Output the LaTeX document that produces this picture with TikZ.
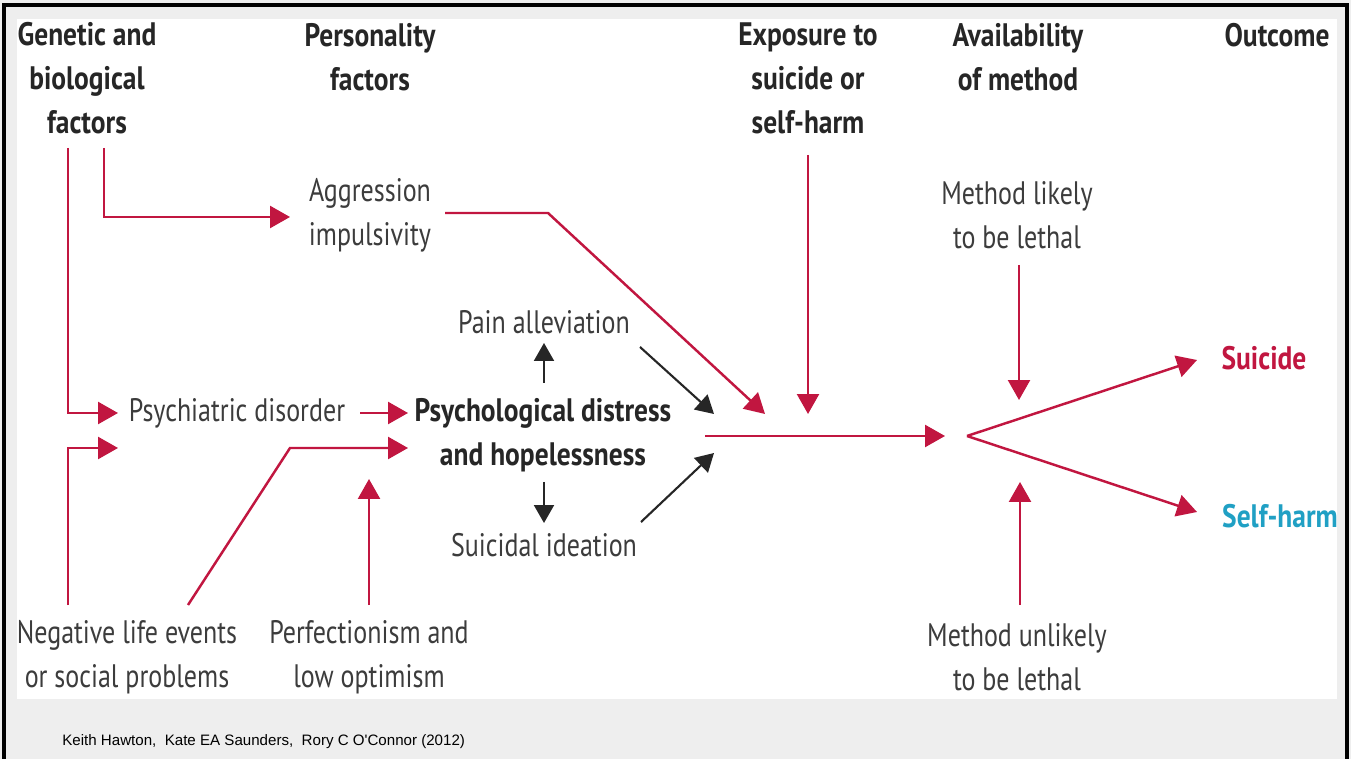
\documentclass[tikz,border=0pt]{standalone}
\usepackage{fontspec}
\setmainfont{PT Sans}[FakeStretch=0.8, BoldFeatures={FakeStretch=0.845}]
\newfontfamily\creditfont{Liberation Sans}
\usepackage{tikz}
\usetikzlibrary{arrows.meta}
\usepackage{xcolor}
\definecolor{lancetred}{RGB}{193,22,64}
\definecolor{harmblue}{RGB}{32,160,196}
\definecolor{textgrey}{RGB}{60,60,60}
\definecolor{panelgrey}{RGB}{238,238,238}
\tikzset{
  lbl/.style={align=center, text=textgrey, inner sep=0pt,
    font=\fontsize{18.5}{25}\selectfont},
  head/.style={lbl, text=black!85, font=\fontsize{18.5}{25}\selectfont\bfseries},
  redarrow/.style={draw=lancetred, line width=1.4pt,
    -{Triangle[length=0.4cm,width=0.44cm]}},
  blackarrow/.style={draw=black!85, line width=1.2pt,
    -{Triangle[length=0.36cm,width=0.4cm]}}
}

\begin{document}
\begin{tikzpicture}[x=0.02cm, y=-0.02cm]
\useasboundingbox (0,0) rectangle (1351,759);
\fill[panelgrey] (0,0) rectangle (1351,759);
\draw[black, line width=2pt] (4,5) rectangle (1347,770);
\fill[white] (17,19) rectangle (1337,699);

% column heads
\node[head] (genetic) at (87,78) {Genetic and\\biological\\factors};
\node[head] (personality) at (370,57) {Personality\\factors};
\node[head] (exposure) at (808,78) {Exposure to\\suicide or\\self-harm};
\node[head] (availability) at (1018,57) {Availability\\of method};
\node[head] (outcome) at (1277,35) {Outcome};

% factors
\node[lbl] (aggression) at (370,215) {Aggression\\impulsivity};
\node[lbl] (likely) at (1017,215) {Method likely\\to be lethal};
\node[lbl] (pain) at (544,322) {Pain alleviation};
\node[lbl] (psychiatric) at (237,413) {Psychiatric disorder};
\node[head] (distress) at (543,435) {Psychological distress\\and hopelessness};
\node[lbl] (ideation) at (544,545) {Suicidal ideation};
\node[lbl] (negative) at (127,657) {Negative life events\\or social problems};
\node[lbl] (perfection) at (369,657) {Perfectionism and\\low optimism};
\node[lbl] (unlikely) at (1017,657) {Method unlikely\\to be lethal};

% outcomes
\node[head, text=lancetred] (suicide) at (1264,358) {Suicide};
\node[head, text=harmblue] (selfharm) at (1280,516) {Self-harm};

\node[anchor=west, inner sep=0pt, font=\creditfont\fontsize{8.6}{10}\selectfont]
  (credit) at (62,742) {Keith Hawton,\ \ Kate EA Saunders,\ \ Rory C O'Connor (2012)};

% junction points
\coordinate (gen-a) at (68,148);
\coordinate (gen-b) at (104,148);
\coordinate (psy-in-a) at (118,413);
\coordinate (psy-in-b) at (118,448);
\coordinate (psy-out) at (360,413);
\coordinate (dis-in-a) at (408,413);
\coordinate (dis-in-b) at (408,448);
\coordinate (agg-in) at (290,217);
\coordinate (agg-out) at (445,213);
\coordinate (neg-a) at (68,605);
\coordinate (neg-b) at (188,605);
\coordinate (per-out) at (369,605);
\coordinate (per-in) at (369,479);
\coordinate (pain-out) at (544,383);
\coordinate (pain-in) at (544,343);
\coordinate (ide-out) at (544,482);
\coordinate (ide-in) at (544,523);
\coordinate (pain-go) at (640,347);
\coordinate (ide-go) at (641,522);
\coordinate (hub-a) at (714,414);
\coordinate (hub-b) at (714,453);
\coordinate (hub-agg) at (765,414);
\coordinate (exp-out) at (808,155);
\coordinate (exp-in) at (808,414);
\coordinate (main-out) at (705,436);
\coordinate (main-in) at (945,436);
\coordinate (fork) at (967,436);
\coordinate (lik-out) at (1019,265);
\coordinate (lik-in) at (1019,400);
\coordinate (unl-out) at (1020,605);
\coordinate (unl-in) at (1020,482);
\coordinate (sui-in) at (1197,360);
\coordinate (harm-in) at (1197,512);

% red pathways
\draw[redarrow] (gen-a) |- (psy-in-a);
\draw[redarrow] (gen-b) |- (agg-in);
\draw[redarrow] (neg-a) |- (psy-in-b);
\draw[redarrow] (neg-b) -- (290,448) -- (dis-in-b);
\draw[redarrow] (psy-out) -- (dis-in-a);
\draw[redarrow] (per-out) -- (per-in);
\draw[redarrow] (agg-out) -- (548,213) -- (hub-agg);
\draw[redarrow] (exp-out) -- (exp-in);
\draw[redarrow] (main-out) -- (main-in);
\draw[redarrow] (lik-out) -- (lik-in);
\draw[redarrow] (unl-out) -- (unl-in);
\draw[redarrow] (fork) -- (sui-in);
\draw[redarrow] (fork) -- (harm-in);

% black pathways
\draw[blackarrow] (pain-out) -- (pain-in);
\draw[blackarrow] (ide-out) -- (ide-in);
\draw[blackarrow] (pain-go) -- (hub-a);
\draw[blackarrow] (ide-go) -- (hub-b);
\end{tikzpicture}
\end{document}
